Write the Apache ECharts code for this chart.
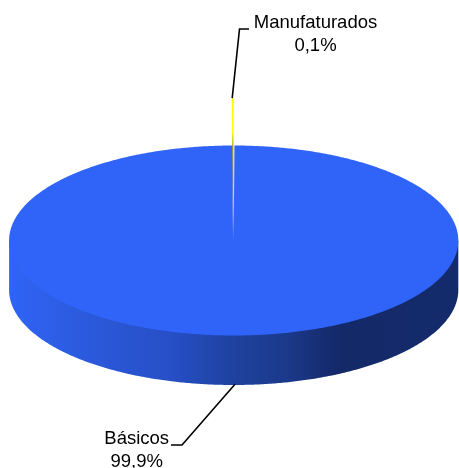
<!DOCTYPE html>
<html><head><meta charset="utf-8">
<style>html,body{margin:0;padding:0;background:#fff}#c{width:459px;height:468px}</style>
<script src="https://cdn.jsdelivr.net/npm/echarts@6/dist/echarts.min.js"></script>
</head><body><div id="c"></div>
<script>
const categories = ['Básicos', 'Manufaturados'];
const values = [99.9, 0.1];

const total = values.reduce((a, b) => a + b, 0);
const pie = { cx: 233.7, cy: 240.5, rx: 224.6, ry: 95, depth: 49.5 };
const sliver = { scale: 1.42, lift: 7.5, shift: -0.9 };
const FONT = '18.5px "Liberation Sans", Arial, sans-serif';
const labelLayout = [
  { text: [136.7, 427], elbow: [182, 445], end: [171, 445], from: 'bottom' },
  { text: [315.5, 11], elbow: [239.5, 29], end: [249, 29], from: 'tip' }
];

// Slices run clockwise; the small slice is centred on the top of the pie.
const frac = i => values[i] / total;
const gap = frac(1) * Math.PI * 2;
const ranges = [
  [-Math.PI / 2 + gap / 2, -Math.PI / 2 + Math.PI * 2 - gap / 2],
  [-Math.PI / 2 - gap / 2, -Math.PI / 2 + gap / 2]
];
function ellipsePts(cx, cy, rx, ry, a0, a1, n) {
  const out = [];
  for (let k = 0; k <= n; k++) {
    const a = a0 + (a1 - a0) * k / n;
    out.push([cx + rx * Math.cos(a), cy + ry * Math.sin(a)]);
  }
  return out;
}
const wallFill = new echarts.graphic.LinearGradient(0, 0, 1, 0, [
  { offset: 0, color: '#3064f6' },
  { offset: 0.2, color: '#2a58d8' },
  { offset: 0.36, color: '#274fc6' },
  { offset: 0.5, color: '#1e429f' },
  { offset: 0.62, color: '#1b398a' },
  { offset: 0.7, color: '#162d72' },
  { offset: 0.74, color: '#142968' },
  { offset: 1, color: '#142b6b' }
]);
const sliverFill = new echarts.graphic.LinearGradient(0, 0, 0, 1, [
  { offset: 0, color: '#ffff00' },
  { offset: 0.25, color: '#ffff00' },
  { offset: 0.36, color: '#aaa810' },
  { offset: 0.6, color: '#8a8f88' },
  { offset: 1, color: '#d8e2fb' }
]);
function renderItem(params) {
  const i = params.dataIndex;
  const L = labelLayout[i];
  const children = [];
  let anchor;
  if (i === 0) {
    const front = ellipsePts(pie.cx, pie.cy + pie.depth, pie.rx, pie.ry, 0, Math.PI, 360);
    children.push({ type: 'polygon',
      shape: { points: [[pie.cx + pie.rx, pie.cy]].concat(front, [[pie.cx - pie.rx, pie.cy]]) },
      style: { fill: wallFill } });
    const top = ellipsePts(pie.cx, pie.cy, pie.rx, pie.ry, ranges[0][0], ranges[0][1], 720);
    top.push([pie.cx, pie.cy]);
    children.push({ type: 'polygon', shape: { points: top }, style: { fill: '#3064f8' } });
    anchor = [pie.cx + 1.5, pie.cy + pie.ry + pie.depth - 1];
  } else {
    const cy = pie.cy - sliver.lift;
    const cx = pie.cx + sliver.shift;
    const rx = pie.rx * sliver.scale, ry = pie.ry * sliver.scale;
    const arc = ellipsePts(cx, cy, rx, ry, ranges[1][0], ranges[1][1], 4);
    arc.push([cx, cy]);
    children.push({ type: 'polygon', shape: { points: arc }, style: { fill: sliverFill } });
    anchor = [cx - 0.6, cy - ry];
  }
  children.push({ type: 'polyline',
    shape: { points: [anchor, L.elbow, L.end] },
    style: { stroke: '#000', lineWidth: 1.6, fill: null } });
  const pct = (frac(i) * 100).toFixed(1).replace('.', ',') + '%';
  children.push({ type: 'text',
    style: { x: L.text[0], y: L.text[1], text: categories[i] + '\n' + pct, font: FONT,
      lineHeight: 23, align: 'center', verticalAlign: 'top', fill: '#000' } });
  return { type: 'group', children };
}
const chart = echarts.init(document.getElementById('c'), null, { renderer: 'canvas' });
chart.setOption({
  animation: false,
  backgroundColor: '#fff',
  series: [{
    type: 'custom',
    coordinateSystem: 'none',
    renderItem,
    silent: true,
    data: categories.map((name, i) => ({ name, value: values[i] }))
  }]
});
</script></body></html>
